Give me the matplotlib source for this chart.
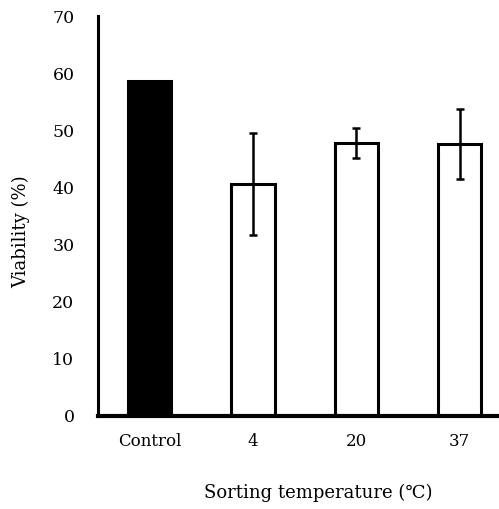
import numpy as np
import matplotlib
matplotlib.use("Agg")
import matplotlib.pyplot as plt

# values
categories = ["Control", "4", "20", "37"]
viability = [58.6, 40.6, 47.8, 47.6]
errors = [0.0, 9.0, 2.6, 6.2]
fills = ["black", "white", "white", "white"]

plt.rcParams["font.family"] = ["DejaVu Serif"]

fig = plt.figure(figsize=(4.99, 5.09), dpi=100)
ax = fig.add_axes([98 / 499, 93 / 509, 1 - 98 / 499, (416 - 16) / 509])

x = np.arange(len(categories))
ax.bar(x, viability, width=0.42, color=fills, edgecolor="black", linewidth=2.2, zorder=2)
err_idx = [i for i, e in enumerate(errors) if e > 0]
ax.errorbar(x[err_idx], [viability[i] for i in err_idx], yerr=[errors[i] for i in err_idx],
            fmt="none", ecolor="black", elinewidth=1.8, capsize=3, capthick=1.8, zorder=3)

ax.set_xlim(-0.5, 3.38)
ax.set_ylim(0, 70)
ax.set_yticks(range(0, 80, 10))
ax.set_xticks(x)
ax.set_xticklabels(categories)
ax.tick_params(axis="x", length=0, labelsize=12, pad=12)
ax.tick_params(axis="y", length=0, labelsize=12.5, pad=17)

for side in ["top", "right"]:
    ax.spines[side].set_visible(False)
ax.spines["left"].set_linewidth(2.2)
ax.spines["bottom"].set_linewidth(3)

ax.set_ylabel("Viability (%)", fontsize=13)
ax.yaxis.set_label_coords(-0.17, 0.46)
ax.set_xlabel("Sorting temperature (℃)", fontsize=13)
ax.xaxis.set_label_coords(0.549, -0.17)

fig.savefig("out.png", dpi=100)
